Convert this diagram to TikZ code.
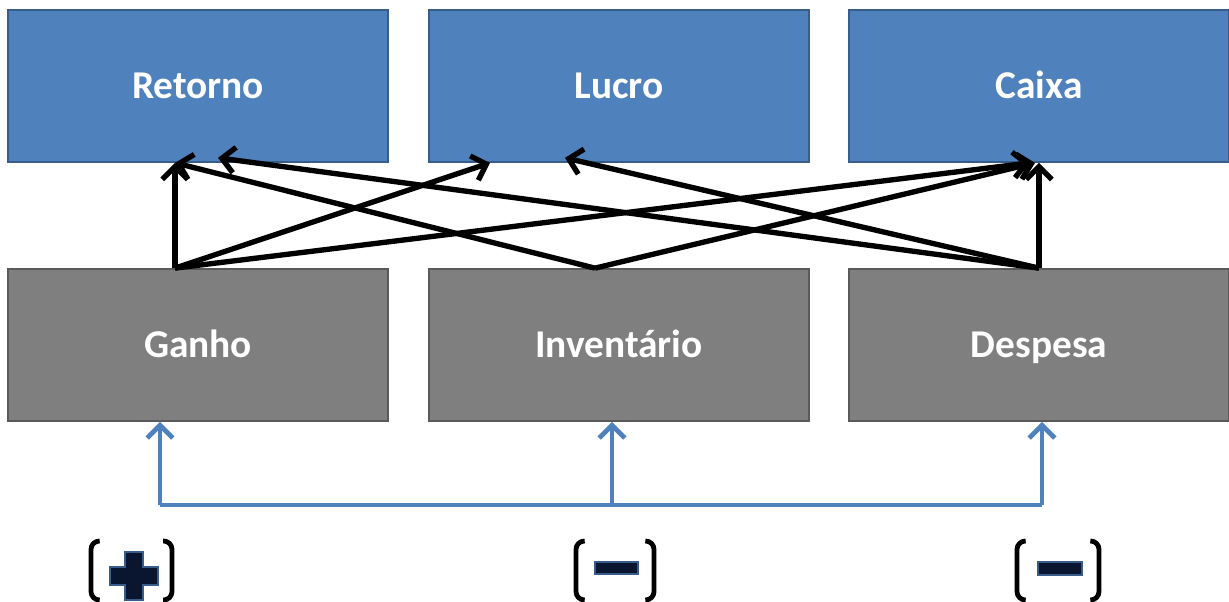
\documentclass[tikz,border=0pt]{standalone}
\usepackage{fontspec}
\setmainfont{Carlito}
\usetikzlibrary{arrows.meta}
\definecolor{topblue}{HTML}{4F81BD}
\definecolor{topedge}{HTML}{385D8A}
\definecolor{midgray}{HTML}{7F7F7F}
\definecolor{grayedge}{HTML}{5A5A5A}
\definecolor{signfill}{HTML}{0A1530}
\begin{document}
\begin{tikzpicture}[x=0.025cm,y=-0.025cm,
    >={Straight Barb[length=3.2mm,width=6.4mm]},
    box/.style={minimum width=9.5cm,minimum height=3.8cm,inner sep=0pt,
      text height=18pt,text depth=0pt,
      line width=1.2pt,text=white,font=\fontsize{28}{32}\selectfont\bfseries},
    result/.style={box,fill=topblue,draw=topedge},
    measure/.style={box,fill=midgray,draw=grayedge},
    link/.style={->,line width=3.8pt,black},
    feed/.style={line width=3.4pt,topblue},
    bracket/.style={line width=3.4pt,rounded corners=6pt,black},
    signmark/.style={fill=signfill,draw=topedge,line width=0.8pt}]
    \useasboundingbox (0,0) rectangle (1229,602);
    % results
    \node[result] (retorno) at (198,86) {Retorno};
    \node[result] (lucro) at (619,86) {Lucro};
    \node[result] (caixa) at (1039,86) {Caixa};
    % measures
    \node[measure] (ganho) at (198,345) {Ganho};
    \node[measure] (inventario) at (619,345) {Inventário};
    \node[measure] (despesa) at (1039,345) {Despesa};
    % links
    \draw [link] ([xshift=-0.575cm]ganho.north) -- ([xshift=-0.575cm]retorno.south);
    \draw [link] ([xshift=-0.575cm]ganho.north) -- ([xshift=-3.225cm]lucro.south);
    \draw [link] ([xshift=-0.575cm]ganho.north) -- ([xshift=-0.225cm]caixa.south);
    \draw [link] ([xshift=-0.6cm]inventario.north) -- ([xshift=-0.575cm]retorno.south);
    \draw [link] ([xshift=-0.6cm]inventario.north) -- ([xshift=-0.1cm]caixa.south);
    \draw [link] (despesa.north) -- ([xshift=0.5cm,yshift=0.125cm]retorno.south);
    \draw [link] (despesa.north) -- ([xshift=-1.35cm,yshift=0.125cm]lucro.south);
    \draw [link] (despesa.north) -- (caixa.south);
    % feedback line
    \coordinate (busg) at (160,505);
    \coordinate (busi) at (612,505);
    \coordinate (busd) at (1042,505);
    \draw [feed] (busg) -- (busd);
    \draw [feed,->] (busg) -- (busg |- ganho.south);
    \draw [feed,->] (busi) -- (busi |- inventario.south);
    \draw [feed,->] (busd) -- (busd |- despesa.south);
    % signs
    \draw [bracket] (99,541) -- (91,541) -- (91,600) -- (99,600);
    \draw [bracket] (163,541) -- (172,541) -- (172,600) -- (163,600);
    \draw [signmark] (125,552) rectangle (143,600);
    \draw [signmark] (110,567) rectangle (158,585);
    \fill [signfill] (126,553) rectangle (142,599);
    \draw [bracket] (584,541) -- (576,541) -- (576,600) -- (584,600);
    \draw [bracket] (646,541) -- (654,541) -- (654,600) -- (646,600);
    \draw [signmark] (595,562) rectangle (638,574);
    \draw [bracket] (1025,541) -- (1017,541) -- (1017,600) -- (1025,600);
    \draw [bracket] (1091,541) -- (1099,541) -- (1099,600) -- (1091,600);
    \draw [signmark] (1038,562) rectangle (1082,575);
\end{tikzpicture}
\end{document}
